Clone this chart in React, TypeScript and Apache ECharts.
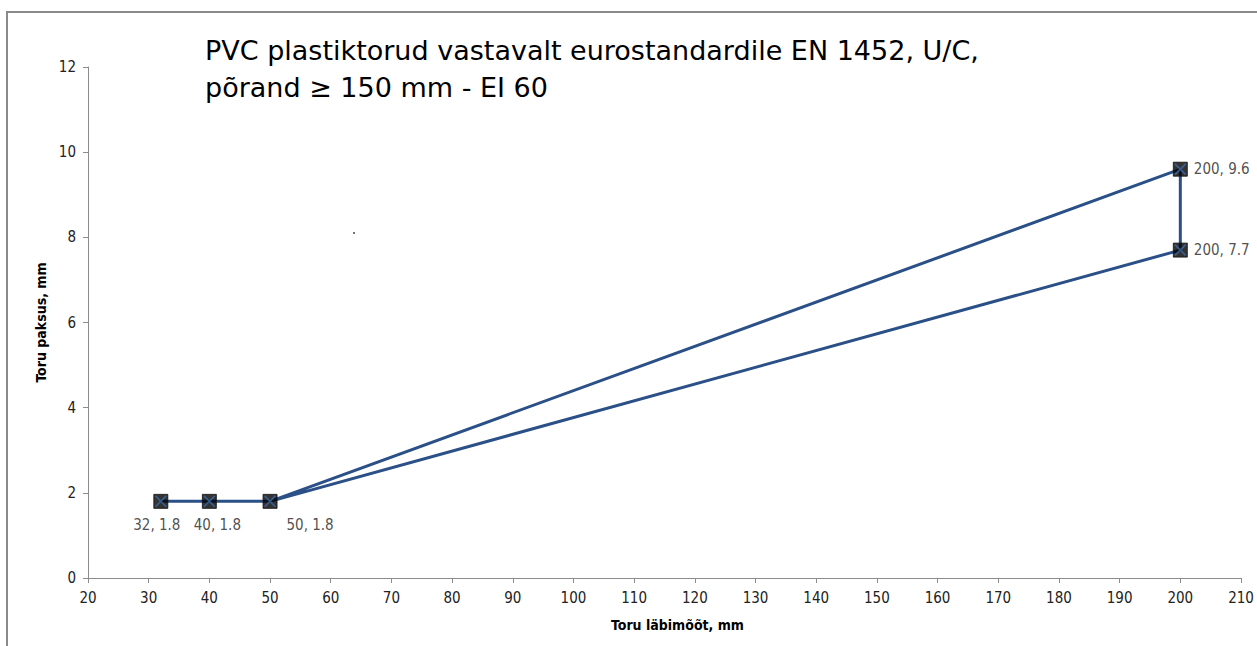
import React, { useEffect, useRef } from "react";
import * as echarts from "echarts";

const titleLines = ["PVC plastiktorud vastavalt eurostandardile EN 1452, U/C,", "põrand ≥ 150 mm - EI 60"];
const xName = "Toru läbimõõt, mm";
const yName = "Toru paksus, mm";
// path order of the outline
const pathX = [32, 40, 50, 200, 200, 50];
const pathY = [1.8, 1.8, 1.8, 9.6, 7.7, 1.8];
// labelled points
const ptX = [32, 40, 50, 200, 200];
const ptY = [1.8, 1.8, 1.8, 9.6, 7.7];
const labelPos = ["bottom", "bottom", "bottom", "right", "right"];
const labelOffset = [[-4, 4], [8, 4], [40, 4], [1, 0], [1, 0]];

const LINE = "#2B5087";
const FONT = "'DejaVu Sans Condensed', 'DejaVu Sans', sans-serif";
const TFONT = "'DejaVu Sans', sans-serif";

export default function App() {
  const ref = useRef<HTMLDivElement>(null);
  useEffect(() => {
    const chart = echarts.init(ref.current!, null, { renderer: "svg" });
    const xPath = "path://M0,1 L1,0 L10,9 L9,10 Z M9,0 L10,1 L1,10 L0,9 Z";
    chart.setOption({
      animation: false,
      backgroundColor: "#fff",
      grid: { left: 88, right: 16, top: 67, bottom: 68 },
      xAxis: {
        type: "value",
        min: 20,
        max: 210,
        interval: 10,
        name: xName,
        nameLocation: "middle",
        nameGap: 40,
        nameTextStyle: { fontWeight: "bold", fontSize: 14, color: "#000", fontFamily: FONT, padding: [0, 0, 0, 26] },
        axisLine: { lineStyle: { color: "#8c8c8c", width: 1 } },
        axisTick: { show: true, length: 5, lineStyle: { color: "#8c8c8c" } },
        axisLabel: { fontSize: 15, color: "#222", fontFamily: FONT, margin: 12 },
        splitLine: { show: false },
      },
      yAxis: {
        type: "value",
        min: 0,
        max: 12,
        interval: 2,
        name: yName,
        nameLocation: "middle",
        nameGap: 36,
        nameRotate: 90,
        nameTextStyle: { fontWeight: "bold", fontSize: 14, color: "#000", fontFamily: FONT },
        axisLine: { show: true, lineStyle: { color: "#8c8c8c", width: 1 } },
        axisTick: { show: true, length: 5, lineStyle: { color: "#8c8c8c" } },
        axisLabel: { fontSize: 15, color: "#222", fontFamily: FONT, margin: 12 },
        splitLine: { show: false },
      },
      graphic: [
        {
          type: "rect",
          shape: { x: 7, y: 12, width: 1300, height: 700 },
          style: { fill: "none", stroke: "#8a8a8a", lineWidth: 2 },
          silent: true,
        },
        {
          type: "text",
          left: 205,
          top: 32,
          style: {
            text: titleLines.join("\n"),
            font: `27px ${TFONT}`,
            fill: "#000",
            lineHeight: 37,
          },
        },
        {
          type: "rect",
          shape: { x: 353, y: 232, width: 2, height: 2 },
          style: { fill: "#777" },
        },
      ],
      series: [
        {
          type: "line",
          data: pathX.map((x, i) => [x, pathY[i]]),
          showSymbol: false,
          symbol: "none",
          lineStyle: { color: LINE, width: 3 },
          z: 2,
        },
        {
          type: "scatter",
          data: ptX.map((x, i) => ({
            value: [x, ptY[i]],
            label: {
              show: true,
              position: labelPos[i],
              offset: labelOffset[i],
            },
          })),
          symbol: "rect",
          symbolSize: 14,
          itemStyle: { color: "#000", borderColor: "#111", borderWidth: 1 },
          label: {
            formatter: (p: any) => `${p.value[0]}, ${p.value[1]}`,
            fontSize: 15,
            color: "#222",
            fontFamily: FONT,
          },
          z: 3,
        },
        {
          type: "scatter",
          data: ptX.map((x, i) => [x, ptY[i]]),
          symbol: xPath,
          symbolSize: 12,
          itemStyle: { color: "#3C6AA8" },
          z: 4,
        },
      ],
    });
    return () => chart.dispose();
  }, []);
  return <div ref={ref} style={{ position: "absolute", left: 0, top: 0, width: 1257, height: 646 }} />;
}
